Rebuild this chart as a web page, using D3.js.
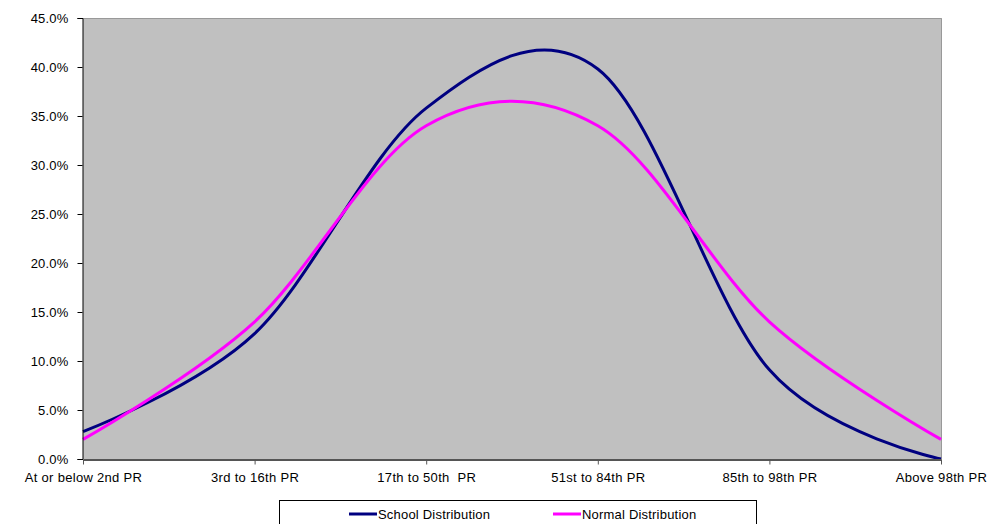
<!DOCTYPE html>
<html><head><meta charset="utf-8">
<script src="https://cdn.jsdelivr.net/npm/d3@7"></script>
<style>body{margin:0;background:#fff;}svg{display:block;font-family:"Liberation Sans",Arial,sans-serif;}</style>
</head><body>
<svg id="c" width="989" height="524"></svg>
<script>
const categories = ["At or below 2nd PR","3rd to 16th PR","17th to 50th  PR","51st to 84th PR","85th to 98th PR","Above 98th PR"];
const schoolValues = [0.028, 0.128, 0.358, 0.398, 0.091, 0.0];
const normalValues = [0.02, 0.14, 0.34, 0.34, 0.14, 0.02];
const yTicks = [0,0.05,0.10,0.15,0.20,0.25,0.30,0.35,0.40,0.45];
const seriesNames = ["School Distribution","Normal Distribution"];
const colors = ["#000080","#FF00FF"];

const svg = d3.select("#c");
const L=83, R=942, T=18, B=459;
const x = d3.scalePoint().domain(categories).range([L, R-1]);
const y = d3.scaleLinear().domain([0,0.45]).range([B, T]);

svg.append("rect").attr("x",L).attr("y",T).attr("width",R-L).attr("height",B-T).attr("fill","#C0C0C0");
svg.append("path").attr("d",`M${L},${T+0.5}H${R-0.5}V${B}`).attr("fill","none").attr("stroke","#999").attr("stroke-width",1);

const line = d3.line().x((d,i)=>x(categories[i])).y(d=>y(d)).curve(d3.curveCardinal.tension(0));
[schoolValues, normalValues].forEach((vals,k)=>{
  svg.append("path").datum(vals).attr("d",line).attr("fill","none").attr("stroke",colors[k]).attr("stroke-width",3);
});

// y axis
const yAx = svg.append("g").attr("transform",`translate(${L-0.5},0)`)
  .call(d3.axisLeft(y).tickValues(yTicks).tickFormat(d3.format(".1%")).tickSize(5).tickPadding(9));
yAx.select(".domain").attr("stroke","#000");
yAx.selectAll("text").attr("font-size","13px").attr("letter-spacing","0.2px").attr("fill","#000").attr("font-family","Liberation Sans, Arial, sans-serif");

// x axis
const xAx = svg.append("g").attr("transform",`translate(0,${B+0.5})`)
  .call(d3.axisBottom(x).tickSize(5).tickPadding(8).tickSizeOuter(0));
xAx.select(".domain").attr("stroke","#555").attr("stroke-width",2);
xAx.selectAll("line").attr("stroke","#555");
xAx.selectAll("text").attr("font-size","13px").attr("letter-spacing","0.3px").style("white-space","pre").attr("fill","#000").attr("font-family","Liberation Sans, Arial, sans-serif");

// legend
const lg = svg.append("g");
lg.append("rect").attr("x",279.5).attr("y",500.5).attr("width",477).attr("height",40).attr("fill","#fff").attr("stroke","#000");
const lx=[349,553];
seriesNames.forEach((n,i)=>{
  lg.append("line").attr("x1",lx[i]).attr("x2",lx[i]+28).attr("y1",514).attr("y2",514).attr("stroke",colors[i]).attr("stroke-width",3);
  lg.append("text").attr("x",lx[i]+29).attr("y",518.5).attr("font-size","13px").attr("letter-spacing","0.2px").attr("fill","#000").text(n);
});
</script>
</body></html>
